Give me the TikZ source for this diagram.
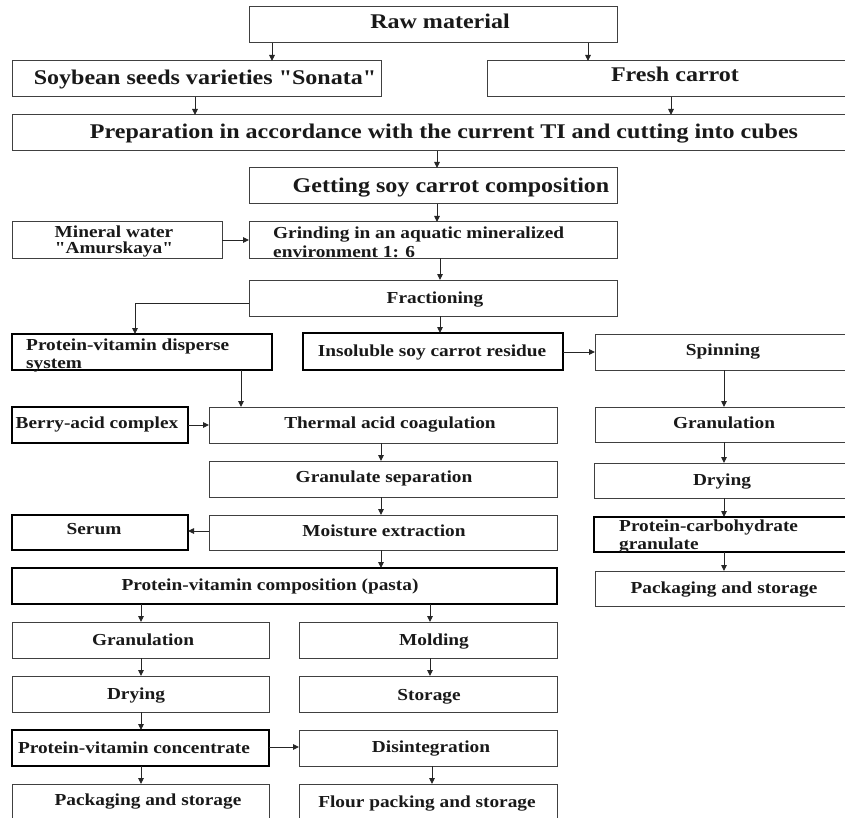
\documentclass[tikz,border=0pt]{standalone}
\usepackage{fontspec}
\setmainfont{Liberation Serif}[FakeStretch=1.15, Ligatures=TeXOff]
\usetikzlibrary{arrows.meta}
\newcommand\mkbox[6]{\node[#6, minimum width={#4pt-#2pt}, minimum height={#5pt-#3pt}] (#1) at ({(#2+#4)/2},{(#3+#5)/2}) {};}
\tikzset{
  thinbox/.style={draw=black!75, line width=1pt, inner sep=0pt, outer sep=0pt, fill=white},
  thickbox/.style={draw=black, line width=1.8pt, inner sep=0pt, outer sep=0pt, fill=white},
  arr/.style={draw=black!85, line width=0.9pt, -{Triangle[length=6pt,width=5.5pt]}},
  big/.style={font=\fontsize{20.9}{22}\selectfont\bfseries, inner sep=0pt, anchor=base, text=black!90},
  mid/.style={font=\fontsize{16.8}{18}\selectfont\bfseries, inner sep=0pt, anchor=base, text=black!90},
  midl/.style={mid, anchor=base west},
}
\begin{document}
\begin{tikzpicture}[x=1pt, y=-1pt]
\useasboundingbox (0,0) rectangle (845,818);
\fill[white] (0,0) rectangle (845,818);
% boxes
\mkbox{raw}{249}{7}{617}{43}{thinbox}
\mkbox{soy}{12}{61}{381}{97}{thinbox}
\mkbox{carrot}{487}{61}{846}{97}{thinbox}
\mkbox{prep}{12}{115}{846}{151}{thinbox}
\mkbox{get}{249}{168}{617}{204}{thinbox}
\mkbox{mineral}{12}{222}{222}{258}{thinbox}
\mkbox{grind}{249}{222}{617}{258}{thinbox}
\mkbox{frac}{249}{280}{617}{316}{thinbox}
\mkbox{disp}{12}{334}{272}{370}{thickbox}
\mkbox{insol}{303}{333}{563}{370}{thickbox}
\mkbox{spin}{595}{334}{846}{370}{thinbox}
\mkbox{berry}{12}{407}{188}{443}{thickbox}
\mkbox{therm}{209}{407}{557}{443}{thinbox}
\mkbox{granR}{595}{407}{846}{442}{thinbox}
\mkbox{gsep}{209}{461}{557}{497}{thinbox}
\mkbox{dryR}{594}{463}{846}{498}{thinbox}
\mkbox{serum}{12}{515}{188}{550}{thickbox}
\mkbox{moist}{209}{515}{557}{550}{thinbox}
\mkbox{pcarb}{594}{517}{846}{552}{thickbox}
\mkbox{pasta}{12}{568}{557}{604}{thickbox}
\mkbox{packR}{595}{571}{846}{606}{thinbox}
\mkbox{granL}{12}{622}{269}{658}{thinbox}
\mkbox{mold}{299}{622}{557}{658}{thinbox}
\mkbox{dryL}{12}{676}{269}{712}{thinbox}
\mkbox{stor}{299}{676}{557}{712}{thinbox}
\mkbox{conc}{12}{730}{269}{766}{thickbox}
\mkbox{disint}{299}{730}{557}{766}{thinbox}
\mkbox{packL}{12}{784}{269}{820}{thinbox}
\mkbox{flour}{299}{784}{557}{820}{thinbox}
% texts
\node[big] (t-raw) at (440,29) {Raw material};
\node[big] (t-soy) at (205,85) {Soybean seeds varieties "Sonata"};
\node[big] (t-carrot) at (675,82) {Fresh carrot};
\node[big] (t-prep) at (444,139) {Preparation in accordance with the current TI and cutting into cubes};
\node[big] (t-get) at (451,193) {Getting soy carrot composition};
\node[mid] (t-min1) at (114,237) {Mineral water};
\node[mid] (t-min2) at (114,254) {"Amurskaya"};
\node[midl] (t-gr1) at (273,239) {Grinding in an aquatic mineralized};
\node[midl] (t-gr2) at (273,257) {environment 1: 6};
\node[mid] (t-frac) at (435,303) {Fractioning};
\node[midl] (t-disp1) at (26,350) {Protein-vitamin disperse};
\node[midl] (t-disp2) at (26,368) {system};
\node[mid] (t-insol) at (432,356) {Insoluble soy carrot residue};
\node[mid] (t-spin) at (723,355) {Spinning};
\node[mid] (t-berry) at (97,428) {Berry-acid complex};
\node[mid] (t-therm) at (390,428) {Thermal acid coagulation};
\node[mid] (t-granR) at (724,428) {Granulation};
\node[mid] (t-gsep) at (384,482) {Granulate separation};
\node[mid] (t-dryR) at (722,485) {Drying};
\node[mid] (t-serum) at (94,534) {Serum};
\node[mid] (t-moist) at (384,536) {Moisture extraction};
\node[midl] (t-pc1) at (619,531) {Protein-carbohydrate};
\node[midl] (t-pc2) at (619,549) {granulate};
\node[mid] (t-pasta) at (270,590) {Protein-vitamin composition (pasta)};
\node[mid] (t-packR) at (724,593) {Packaging and storage};
\node[mid] (t-granL) at (143,645) {Granulation};
\node[mid] (t-mold) at (434,645) {Molding};
\node[mid] (t-dryL) at (136,699) {Drying};
\node[mid] (t-stor) at (429,700) {Storage};
\node[mid] (t-conc) at (134,753) {Protein-vitamin concentrate};
\node[mid] (t-disint) at (431,752) {Disintegration};
\node[mid] (t-packL) at (148,805) {Packaging and storage};
\node[mid] (t-flour) at (427,807) {Flour packing and storage};
% helper coordinates
\coordinate (xa) at (272,0);
\coordinate (xb) at (588,0);
\coordinate (xc) at (195,0);
\coordinate (xd) at (671,0);
\coordinate (xe) at (437,0);
\coordinate (xf) at (440,0);
\coordinate (xg) at (135,0);
\coordinate (xh) at (241,0);
\coordinate (xi) at (724,0);
\coordinate (xj) at (381,0);
\coordinate (xk) at (141,0);
\coordinate (xl) at (430,0);
\coordinate (xm) at (432,0);
\coordinate (ya) at (0,240);
\coordinate (yb) at (0,303);
\coordinate (yc) at (0,352);
\coordinate (yd) at (0,425);
\coordinate (ye) at (0,531);
\coordinate (yf) at (0,747);
% connectors
\draw[arr] (raw.south -| xa) -- (soy.north -| xa);
\draw[arr] (raw.south -| xb) -- (carrot.north -| xb);
\draw[arr] (soy.south -| xc) -- (prep.north -| xc);
\draw[arr] (carrot.south -| xd) -- (prep.north -| xd);
\draw[arr] (prep.south -| xe) -- (get.north -| xe);
\draw[arr] (get.south -| xe) -- (grind.north -| xe);
\draw[arr] (mineral.east |- ya) -- (grind.west |- ya);
\draw[arr] (grind.south -| xf) -- (frac.north -| xf);
\draw[arr] (frac.west |- yb) -| (disp.north -| xg);
\draw[arr] (frac.south -| xf) -- (insol.north -| xf);
\draw[arr] (insol.east |- yc) -- (spin.west |- yc);
\draw[arr] (disp.south -| xh) -- (therm.north -| xh);
\draw[arr] (berry.east |- yd) -- (therm.west |- yd);
\draw[arr] (spin.south -| xi) -- (granR.north -| xi);
\draw[arr] (granR.south -| xi) -- (dryR.north -| xi);
\draw[arr] (dryR.south -| xi) -- (pcarb.north -| xi);
\draw[arr] (pcarb.south -| xi) -- (packR.north -| xi);
\draw[arr] (therm.south -| xj) -- (gsep.north -| xj);
\draw[arr] (gsep.south -| xj) -- (moist.north -| xj);
\draw[arr] (moist.west |- ye) -- (serum.east |- ye);
\draw[arr] (moist.south -| xj) -- (pasta.north -| xj);
\draw[arr] (pasta.south -| xk) -- (granL.north -| xk);
\draw[arr] (pasta.south -| xl) -- (mold.north -| xl);
\draw[arr] (granL.south -| xk) -- (dryL.north -| xk);
\draw[arr] (mold.south -| xl) -- (stor.north -| xl);
\draw[arr] (dryL.south -| xk) -- (conc.north -| xk);
\draw[arr] (conc.east |- yf) -- (disint.west |- yf);
\draw[arr] (conc.south -| xk) -- (packL.north -| xk);
\draw[arr] (disint.south -| xm) -- (flour.north -| xm);
\end{tikzpicture}
\end{document}
